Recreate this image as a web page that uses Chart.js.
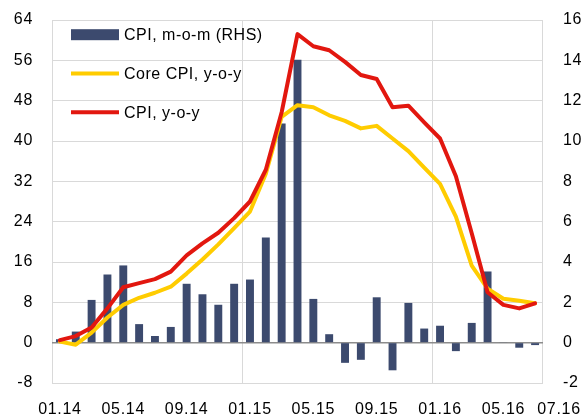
<!DOCTYPE html>
<html>
<head>
<meta charset="utf-8">
<script src="https://cdn.jsdelivr.net/npm/chart.js@4/dist/chart.umd.min.js"></script>
<style>
  html, body { margin: 0; padding: 0; background: #fff; }
  #wrap { width: 585px; height: 417px; }
</style>
</head>
<body>
<div id="wrap"><canvas id="c" width="585" height="417"></canvas></div>
<script>
// ---- data ----
const months = ['01.14','02.14','03.14','04.14','05.14','06.14','07.14','08.14','09.14','10.14','11.14','12.14',
                '01.15','02.15','03.15','04.15','05.15','06.15','07.15','08.15','09.15','10.15','11.15','12.15',
                '01.16','02.16','03.16','04.16','05.16','06.16','07.16'];
const tickLabels = ['01.14','05.14','09.14','01.15','05.15','09.15','01.16','05.16','07.16'];
const cpiMoM = [0.17, 0.55, 2.12, 3.38, 3.83, 0.92, 0.33, 0.78, 2.92, 2.40, 1.88, 2.92,
                3.13, 5.22, 10.87, 14.03, 2.17, 0.42, -1.0, -0.85, 2.25, -1.37, 1.97, 0.70,
                0.84, -0.42, 0.98, 3.53, 0.02, -0.25, -0.12];
const coreYoY = [0.2, -0.4, 2.0, 5.0, 7.5, 8.9, 9.9, 11.1, 13.7, 16.5, 19.5, 22.7,
                 26.0, 33.5, 44.8, 47.1, 46.7, 45.1, 44.0, 42.5, 43.0, 40.5, 38.0, 34.7,
                 31.5, 25.0, 15.3, 10.7, 8.7, 8.3, 7.8];
const cpiYoY = [0.5, 1.3, 3.0, 6.8, 11.0, 11.8, 12.6, 14.1, 17.3, 19.7, 21.8, 24.7,
                28.0, 34.3, 45.7, 61.2, 58.8, 58.0, 55.7, 53.1, 52.3, 46.7, 47.0, 43.7,
                40.5, 33.0, 21.7, 10.0, 7.5, 6.8, 7.8];
const leftTicks = {min: -8, max: 64, step: 8};
const rightTicks = {min: -2, max: 16, step: 2};

// ---- styling ----
const FONT = {family: "'Liberation Sans', Arial, sans-serif", size: 16};
const GRID = '#d9d9d9';
const ZERO = '#8c8c8c';
const CLEAR = 'rgba(0,0,0,0)';

const spacingPlugin = {
  id: 'spacing',
  beforeUpdate(chart) { chart.ctx.letterSpacing = '0.7px'; },
  beforeLayout(chart) { chart.ctx.letterSpacing = '0.7px'; },
  beforeDraw(chart) { chart.ctx.letterSpacing = '0.7px'; }
};

const legendPlugin = {
  id: 'insideLegend',
  afterDraw(chart) {
    const {ctx, chartArea} = chart;
    ctx.save();
    ctx.letterSpacing = '0.5px';
    ctx.font = `${FONT.size}px ${FONT.family}`;
    ctx.textBaseline = 'middle';
    ctx.textAlign = 'left';
    chart.data.datasets.forEach((ds, i) => {
      const y = chartArea.top + 14.7 + i * 38.8;
      const x0 = chartArea.left + 19, w = 48;
      if (ds.type === 'bar') {
        ctx.fillStyle = ds.backgroundColor;
        ctx.fillRect(x0, y - 5.5, w, 11);
      } else {
        ctx.strokeStyle = ds.borderColor;
        ctx.lineWidth = 4;
        ctx.lineCap = 'butt';
        ctx.beginPath();
        ctx.moveTo(x0, y);
        ctx.lineTo(x0 + w, y);
        ctx.stroke();
      }
      ctx.fillStyle = '#000';
      ctx.fillText(ds.label, x0 + w + 5, y + 1);
    });
    ctx.restore();
  }
};

const lastLabelPlugin = {
  id: 'lastLabel',
  afterDraw(chart) {
    const {ctx, chartArea} = chart;
    const last = tickLabels[tickLabels.length - 1];
    ctx.save();
    ctx.letterSpacing = '0.7px';
    ctx.font = `${FONT.size}px ${FONT.family}`;
    ctx.textBaseline = 'middle';
    ctx.textAlign = 'center';
    ctx.fillStyle = '#000';
    ctx.fillText(last, chartArea.right + 16, chartArea.bottom + 27);
    ctx.restore();
  }
};

new Chart(document.getElementById('c'), {
  data: {
    labels: months,
    datasets: [
      {type: 'bar', label: 'CPI, m-o-m (RHS)', data: cpiMoM, yAxisID: 'y1',
       backgroundColor: '#3c4a6e', borderWidth: 0, barPercentage: 0.5, categoryPercentage: 1.0, order: 3},
      {type: 'line', label: 'Core CPI, y-o-y', data: coreYoY, yAxisID: 'y',
       borderColor: '#ffcc00', backgroundColor: '#ffcc00', borderWidth: 4, pointRadius: 0,
       tension: 0, borderJoinStyle: 'round', borderCapStyle: 'round', order: 2},
      {type: 'line', label: 'CPI, y-o-y', data: cpiYoY, yAxisID: 'y',
       borderColor: '#e2170f', backgroundColor: '#e2170f', borderWidth: 4, pointRadius: 0,
       tension: 0, borderJoinStyle: 'round', borderCapStyle: 'round', order: 1}
    ]
  },
  options: {
    responsive: false,
    animation: false,
    devicePixelRatio: 1,
    layout: {padding: {top: 20, left: 0, right: 0, bottom: 0}},
    plugins: {legend: {display: false}, tooltip: {enabled: false}},
    scales: {
      x: {
        type: 'category',
        offset: true,
        grid: {
          offset: true,
          drawTicks: false,
          color: (c) => (c.type !== 'tick' || c.index % 12 === 0) ? GRID : CLEAR,
          lineWidth: 1
        },
        border: {display: false},
        ticks: {
          autoSkip: false, maxRotation: 0, minRotation: 0, padding: 17,
          color: '#000', font: FONT,
          callback: (v, i) => (tickLabels.includes(months[i]) && i !== months.length - 1) ? months[i] : ''
        },
        afterFit: (s) => { s.height = 34; }
      },
      y: {
        position: 'left',
        min: leftTicks.min, max: leftTicks.max,
        grid: {
          drawTicks: true, tickLength: 19, tickColor: CLEAR,
          color: (c) => c.tick && c.tick.value === 0 ? ZERO : GRID,
          lineWidth: (c) => c.tick && c.tick.value === 0 ? 1.5 : 1
        },
        border: {display: false},
        ticks: {stepSize: leftTicks.step, padding: 0, color: '#000', font: FONT},
        afterFit: (s) => { s.width = 52; }
      },
      y1: {
        position: 'right',
        min: rightTicks.min, max: rightTicks.max,
        grid: {drawOnChartArea: false, drawTicks: true, tickLength: 20, tickColor: CLEAR},
        border: {display: false},
        ticks: {stepSize: rightTicks.step, padding: 0, color: '#000', font: FONT},
        afterFit: (s) => { s.width = 42; }
      }
    }
  },
  plugins: [spacingPlugin, legendPlugin, lastLabelPlugin]
});
</script>
</body>
</html>
